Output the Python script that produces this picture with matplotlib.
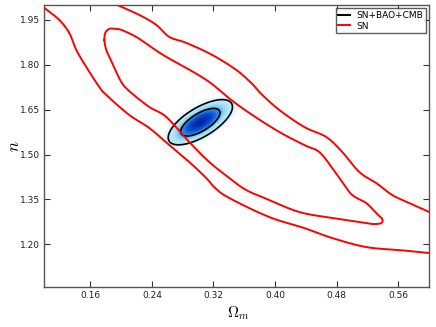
import numpy as np
import matplotlib
matplotlib.use("Agg")
import matplotlib.pyplot as plt
from matplotlib.colors import LinearSegmentedColormap
from matplotlib.lines import Line2D

plt.rcParams['mathtext.fontset'] = 'cm'
plt.rcParams['font.family'] = ['DejaVu Sans']

# ---- data ----
x_ticks = [0.16, 0.24, 0.32, 0.40, 0.48, 0.56]
y_ticks = [1.20, 1.35, 1.50, 1.65, 1.80, 1.95]
x_limits = (0.10, 0.60)
y_limits = (1.057, 2.00)

# SN outer (95%) contour, left branch
sn_outer_left_x = [0.1003, 0.1197, 0.1327, 0.1418, 0.1548, 0.1717, 0.1808, 0.2106, 0.2366,
                   0.2626, 0.2886, 0.3106, 0.3223, 0.3405, 0.3925, 0.4379, 0.4743, 0.5184,
                   0.5613, 0.6003]
sn_outer_left_y = [1.990, 1.950, 1.9065, 1.8497, 1.7928, 1.7259, 1.6992, 1.6323, 1.5888,
                   1.5319, 1.4751, 1.4216, 1.3881, 1.3547, 1.2911, 1.2544, 1.2209, 1.1908,
                   1.1808, 1.1708]

# SN outer (95%) contour, right branch
sn_outer_right_x = [0.1951, 0.2236, 0.2457, 0.2626, 0.2847, 0.3184, 0.3496, 0.3704, 0.3821,
                    0.4055, 0.4379, 0.4665, 0.4873, 0.5094, 0.5314, 0.5522, 0.5743, 0.6003]
sn_outer_right_y = [2.000, 1.9667, 1.9333, 1.8931, 1.8731, 1.8329, 1.7828, 1.7359, 1.7025,
                    1.6490, 1.5921, 1.5587, 1.5085, 1.4416, 1.4048, 1.3647, 1.3380, 1.3079]

# SN inner (68%) contour, closed loop
sn_inner_x = [0.1782, 0.1795, 0.1847, 0.1925, 0.2003, 0.2197, 0.2405, 0.2587, 0.2847, 0.3145,
              0.3431, 0.3704, 0.4055, 0.4379, 0.4574, 0.4743, 0.4873, 0.5003, 0.5184, 0.5314,
              0.5392, 0.5379, 0.5288, 0.5184, 0.4743, 0.4314, 0.3925, 0.3626, 0.3405, 0.3145,
              0.2886, 0.2587, 0.2366, 0.2119, 0.2003, 0.1886, 0.1808, 0.1782]
sn_inner_y = [1.8831, 1.9065, 1.9199, 1.9199, 1.9166, 1.8931, 1.8564, 1.8263, 1.7895, 1.7426,
              1.6824, 1.6323, 1.5754, 1.5319, 1.5085, 1.4550, 1.4082, 1.3647, 1.3380, 1.3045,
              1.2844, 1.2711, 1.2677, 1.2711, 1.2878, 1.3079, 1.3480, 1.3814, 1.4216, 1.4751,
              1.5420, 1.6256, 1.6591, 1.7092, 1.7426, 1.8062, 1.8497, 1.8831]

# SN+BAO+CMB joint constraint (Gaussian approximation)
joint_mean = [0.303, 1.608]
joint_sigma = [0.0168, 0.0304]
joint_rho = 0.68
joint_levels = [2.30, 6.17]   # delta chi^2 for 68% and 95%

legend_labels = ["SN+BAO+CMB", "SN"]


def smooth_path(xs, ys, ax, n=12):
    """Catmull-Rom rendering of a polyline in display space (drawing only)."""
    pts = ax.transData.transform(np.column_stack([xs, ys]))
    p = np.vstack([pts[0], pts, pts[-1]])
    out = []
    for i in range(1, len(p) - 2):
        p0, p1, p2, p3 = p[i - 1], p[i], p[i + 1], p[i + 2]
        for t in np.linspace(0, 1, n, endpoint=False):
            t2, t3 = t * t, t * t * t
            out.append(0.5 * ((2 * p1) + (-p0 + p2) * t +
                              (2 * p0 - 5 * p1 + 4 * p2 - p3) * t2 +
                              (-p0 + 3 * p1 - 3 * p2 + p3) * t3))
    out.append(p[-2])
    out = np.array(out)
    d = ax.transData.inverted().transform(out)
    return d[:, 0], d[:, 1]


# ---- figure ----
fig = plt.figure(figsize=(4.36, 3.27), dpi=100)
ax = fig.add_axes([0.101, 0.122, 0.883, 0.863])
ax.set_xlim(*x_limits)
ax.set_ylim(*y_limits)

gx = np.linspace(x_limits[0], x_limits[1], 500)
gy = np.linspace(y_limits[0], y_limits[1], 500)
X, Y = np.meshgrid(gx, gy)
dx = (X - joint_mean[0]) / joint_sigma[0]
dy = (Y - joint_mean[1]) / joint_sigma[1]
chi2 = (dx**2 - 2 * joint_rho * dx * dy + dy**2) / (1 - joint_rho**2)
dens = np.exp(-chi2 / 2)

cmap = LinearSegmentedColormap.from_list(
    "joint",
    [(0.0, "#ffffff"), (0.012, "#f0fbfe"), (0.045, "#c4ecf8"), (0.2, "#8ad5f2"),
     (0.32, "#3a96e6"), (0.6, "#0d55d6"), (1.0, "#0022a0")])
ax.pcolormesh(X, Y, dens, cmap=cmap, shading="auto", vmin=0, vmax=1, zorder=1,
              rasterized=True)
ax.contour(X, Y, chi2, levels=joint_levels, colors="black", linewidths=1.2, zorder=3)

red = "#ff0000"
lw = 1.4
for xs, ys in [(sn_outer_left_x, sn_outer_left_y),
               (sn_outer_right_x, sn_outer_right_y),
               (sn_inner_x, sn_inner_y)]:
    sx, sy = smooth_path(xs, ys, ax)
    ax.plot(sx, sy, color=red, lw=lw, zorder=4, solid_joinstyle="round")

ax.set_xlim(*x_limits)
ax.set_ylim(*y_limits)
ax.set_xticks(x_ticks)
ax.set_yticks(y_ticks)
ax.set_xticklabels([f"{v:.2f}" for v in x_ticks])
ax.set_yticklabels([f"{v:.2f}" for v in y_ticks])
ax.tick_params(direction="in", length=4, width=0.8, top=True, right=True,
               labelsize=6.5, colors="#333333", labelcolor="#222222", pad=3)
for s in ax.spines.values():
    s.set_color("#555555")
    s.set_linewidth(1.0)

ax.set_xlabel(r"$\Omega_m$", fontsize=11)
ax.set_ylabel(r"$n$", fontsize=12)
ax.xaxis.set_label_coords(0.504, -0.06)
ax.yaxis.set_label_coords(-0.055, 0.50)

handles = [Line2D([0], [0], color="black", lw=1.4),
           Line2D([0], [0], color=red, lw=1.4)]
leg = ax.legend(handles, legend_labels, loc="upper right", fontsize=6.5,
                frameon=True, fancybox=False, handlelength=1.3, handletextpad=0.7,
                borderaxespad=0.35, borderpad=0.3, labelspacing=0.2)
leg.get_frame().set_edgecolor("#333333")
leg.get_frame().set_linewidth(1.0)

fig.savefig("out.png", dpi=100)
